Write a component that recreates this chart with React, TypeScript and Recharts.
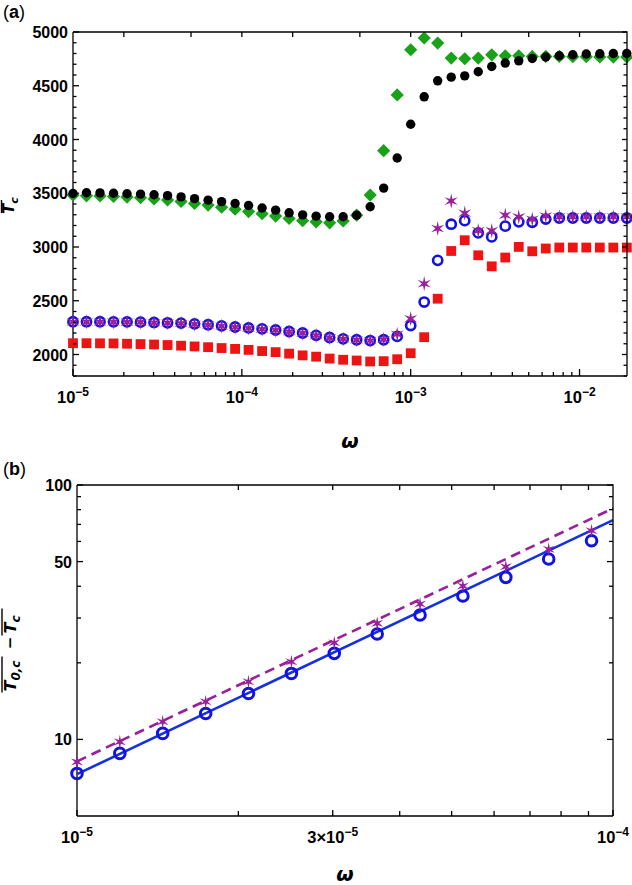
import React from 'react';
import { ScatterChart, Scatter, XAxis, YAxis } from 'recharts';

const FONT = '"Liberation Sans", Arial, Helvetica, sans-serif';
const LABEL_FONT = '"DejaVu Sans", "Liberation Sans", sans-serif';

// ---- panel (a) ----
const omegaA = [
  1.0e-5, 1.202e-5, 1.445e-5, 1.738e-5, 2.089e-5, 2.512e-5, 3.02e-5, 3.631e-5, 4.365e-5, 5.248e-5,
  6.31e-5, 7.586e-5, 9.12e-5, 1.096e-4, 1.318e-4, 1.585e-4, 1.905e-4, 2.291e-4, 2.754e-4, 3.311e-4,
  3.981e-4, 4.786e-4, 5.754e-4, 6.918e-4, 8.318e-4, 1.0e-3, 1.202e-3, 1.445e-3, 1.738e-3, 2.089e-3,
  2.512e-3, 3.02e-3, 3.631e-3, 4.365e-3, 5.248e-3, 6.31e-3, 7.586e-3, 9.12e-3, 1.096e-2, 1.318e-2,
  1.585e-2, 1.905e-2,
];
const blackA = [
  3498, 3505, 3503, 3500, 3495, 3492, 3486, 3478, 3466, 3450, 3436, 3422, 3405, 3386, 3363, 3343,
  3318, 3299, 3287, 3281, 3281, 3296, 3374, 3548, 3828, 4142, 4397, 4546, 4580, 4592, 4630, 4679,
  4711, 4732, 4754, 4767, 4779, 4788, 4795, 4797, 4800, 4800,
];
const greenA = [
  3483, 3476, 3475, 3470, 3464, 3458, 3447, 3438, 3424, 3405, 3390, 3370, 3352, 3330, 3310, 3288,
  3265, 3245, 3234, 3225, 3243, 3296, 3483, 3896, 4415, 4835, 4944, 4897, 4757, 4751, 4757, 4788,
  4779, 4779, 4773, 4773, 4773, 4770, 4770, 4768, 4767, 4767,
];
const redA = [
  2105, 2105, 2104, 2103, 2100, 2097, 2093, 2088, 2082, 2075, 2068, 2060, 2052, 2043, 2032, 2022,
  2008, 1992, 1980, 1962, 1951, 1944, 1935, 1938, 1956, 2012, 2161, 2519, 2963, 3063, 2923, 2820,
  2902, 3001, 2960, 2986, 2995, 2995, 2995, 2995, 2995, 2995,
];
const blueA = [
  2305, 2305, 2305, 2304, 2303, 2301, 2298, 2295, 2292, 2285, 2277, 2267, 2256, 2247, 2238, 2228,
  2214, 2200, 2178, 2158, 2146, 2137, 2130, 2137, 2168, 2270, 2488, 2876, 3212, 3245, 3131, 3094,
  3194, 3234, 3230, 3260, 3270, 3270, 3270, 3270, 3270, 3270,
];
const purpleA = [
  2303, 2303, 2303, 2302, 2301, 2299, 2296, 2293, 2289, 2282, 2274, 2264, 2253, 2244, 2235, 2225,
  2211, 2197, 2176, 2156, 2144, 2135, 2129, 2140, 2188, 2333, 2659, 3172, 3427, 3315, 3152, 3152,
  3296, 3280, 3258, 3288, 3280, 3280, 3280, 3280, 3280, 3280,
];

const xTicksA = [
  1e-5, 2e-5, 3e-5, 4e-5, 5e-5, 6e-5, 7e-5, 8e-5, 9e-5,
  1e-4, 2e-4, 3e-4, 4e-4, 5e-4, 6e-4, 7e-4, 8e-4, 9e-4,
  1e-3, 2e-3, 3e-3, 4e-3, 5e-3, 6e-3, 7e-3, 8e-3, 9e-3, 1e-2,
];
const xTopTicksA = [2e-5, 5e-5, 1e-4, 2e-4, 5e-4, 1e-3, 2e-3, 5e-3, 1e-2];
const xLabelValsA = [1e-5, 1e-4, 1e-3, 1e-2];
const xLabelPrefixA = ['', '', '', ''];
const xLabelExpA = ['−5', '−4', '−3', '−2'];
const yTicksA = [
  1800, 1900, 2000, 2100, 2200, 2300, 2400, 2500, 2600, 2700, 2800, 2900, 3000, 3100, 3200, 3300, 3400,
  3500, 3600, 3700, 3800, 3900, 4000, 4100, 4200, 4300, 4400, 4500, 4600, 4700, 4800, 4900, 5000,
];
const yLabelValsA = [2000, 2500, 3000, 3500, 4000, 4500, 5000];

// ---- panel (b) ----
const omegaB = [
  1.0e-5, 1.202e-5, 1.445e-5, 1.738e-5, 2.089e-5, 2.512e-5, 3.02e-5, 3.631e-5, 4.365e-5, 5.248e-5,
  6.31e-5, 7.586e-5, 9.12e-5,
];
const blueB = [7.35, 8.81, 10.56, 12.65, 15.16, 18.17, 21.79, 25.95, 30.83, 36.6, 43.36, 51.17, 60.39];
const purpleB = [8.16, 9.78, 11.73, 14.06, 16.85, 20.19, 23.98, 28.59, 34.05, 40.06, 47.72, 55.86, 66.12];
const fitX = [1e-5, 1e-4];
const blueFitY = [7.3, 72.8];
const purpleFitY = [8.2, 80.9];

const xTicksB = [1e-5, 2e-5, 3e-5, 4e-5, 5e-5, 6e-5, 7e-5, 8e-5, 9e-5, 1e-4];
const xTopTicksB = [2e-5, 3e-5, 4e-5, 5e-5, 6e-5, 7e-5, 8e-5, 9e-5];
const xLabelValsB = [1e-5, 3e-5, 1e-4];
const xLabelPrefixB = ['', '3×', ''];
const xLabelExpB = ['−5', '−5', '−4'];
const yTicksB = [10, 20, 30, 40, 50, 60, 70, 80, 90, 100];
const yLabelValsB = [10, 50, 100];

const C_GREEN = '#19a119';
const C_RED = '#ee1414';
const C_BLUE = '#1212e2';
const C_PURPLE = '#9a1f9a';
const FRAME_W = 1.3;

// chart boxes
const W = 632;
const A_H = 455;
const A_M = { top: 32, right: 5, bottom: 0, left: 0 };
const A_YW = 73;
const A_XH = 79;
const A_PW = W - A_M.left - A_M.right - A_YW;
const A_PH = A_H - A_M.top - A_M.bottom - A_XH;
const B_H = 430;
const B_M = { top: 30, right: 19, bottom: 0, left: 0 };
const B_YW = 77;
const B_XH = 69;
const B_PW = W - B_M.left - B_M.right - B_YW;
const B_PH = B_H - B_M.top - B_M.bottom - B_XH;

const toPts = (xs: number[], ys: number[]) => ys.map((y, i) => ({ x: xs[i], y }));

// ---- markers ----
const starPoints = (cx: number, cy: number, R: number, r: number) => {
  const pts: string[] = [];
  for (let k = 0; k < 12; k++) {
    const a = -Math.PI / 2 + (k * Math.PI) / 6;
    const rad = k % 2 === 0 ? R : r;
    pts.push(`${cx + rad * Math.cos(a)},${cy + rad * Math.sin(a)}`);
  }
  return pts.join(' ');
};

const BlackDot = (p: any) => <circle cx={p.cx} cy={p.cy} r={4.7} fill="#000" />;
const GreenDiamond = (p: any) => (
  <polygon
    points={`${p.cx},${p.cy - 6.6} ${p.cx + 6.6},${p.cy} ${p.cx},${p.cy + 6.6} ${p.cx - 6.6},${p.cy}`}
    fill={C_GREEN}
  />
);
const RedSquare = (p: any) => <rect x={p.cx - 4.9} y={p.cy - 4.9} width={9.8} height={9.8} fill={C_RED} />;
const BlueRingA = (p: any) => <circle cx={p.cx} cy={p.cy} r={4.6} fill="none" stroke={C_BLUE} strokeWidth={2.6} />;
const StarA = (p: any) => <polygon points={starPoints(p.cx, p.cy, 7.6, 2.3)} fill={C_PURPLE} />;
const BlueRingB = (p: any) => <circle cx={p.cx} cy={p.cy} r={5.3} fill="none" stroke={C_BLUE} strokeWidth={3} />;
const StarB = (p: any) => <polygon points={starPoints(p.cx, p.cy, 7, 2.1)} fill={C_PURPLE} />;
const NoShape = () => <g />;

// ---- ticks: inward marks on the axis and on the opposite side of the frame ----
const xTick =
  (
    majors: number[],
    topTicks: number[],
    labelVals: number[],
    prefixes: string[],
    exps: string[],
    majorLen: number,
    minorLen: number,
    topLen: number,
    plotW: number,
    plotH: number,
  ) =>
  (props: any) => {
    const { x, y, payload, index } = props;
    const v = payload.value;
    const len = majors.includes(v) ? majorLen : minorLen;
    const k = labelVals.indexOf(v);
    const top = y - plotH;
    return (
      <g>
        <line x1={x} x2={x} y1={y} y2={y - len} stroke="#000" strokeWidth={FRAME_W} />
        {topTicks.includes(v) && <line x1={x} x2={x} y1={top} y2={top + topLen} stroke="#000" strokeWidth={FRAME_W} />}
        {index === 0 && (
          <polyline
            points={`${x},${top} ${x + plotW},${top} ${x + plotW},${y}`}
            fill="none"
            stroke="#000"
            strokeWidth={FRAME_W}
          />
        )}
        {k >= 0 && (
          <text x={x} y={y + 27} textAnchor="middle" fontFamily={FONT} fontWeight="bold" fontSize={16.5} fill="#000">
            {prefixes[k]}10
            <tspan dy={-7.5} fontSize={12}>
              {exps[k]}
            </tspan>
          </text>
        )}
      </g>
    );
  };

const yTick =
  (majors: number[], labelVals: number[], majorLen: number, minorLen: number, rightMajor: number, rightMinor: number, plotW: number) =>
  (props: any) => {
    const { x, y, payload } = props;
    const v = payload.value;
    const isMajor = majors.includes(v);
    const len = isMajor ? majorLen : minorLen;
    const rlen = isMajor ? rightMajor : rightMinor;
    const right = x + plotW;
    return (
      <g>
        <line x1={x} x2={x + len} y1={y} y2={y} stroke="#000" strokeWidth={FRAME_W} />
        <line x1={right} x2={right - rlen} y1={y} y2={y} stroke="#000" strokeWidth={FRAME_W} />
        {labelVals.includes(v) && (
          <text x={x - 5} y={y + 6} textAnchor="end" fontFamily={FONT} fontWeight="bold" fontSize={16} fill="#000">
            {v}
          </text>
        )}
      </g>
    );
  };

// ---- axis titles ----
const OmegaLabel = (props: any) => {
  const vb = props.viewBox;
  return (
    <text
      x={vb.x + vb.width / 2}
      y={vb.y + props.base}
      textAnchor="middle"
      fontFamily={LABEL_FONT}
      fontWeight="bold"
      fontStyle="italic"
      fontSize={20}
      fill="#000"
    >
      ω
    </text>
  );
};

const TcLabel = (props: any) => {
  const vb = props.viewBox;
  const cy = vb.y + vb.height / 2;
  return (
    <g transform={`translate(${vb.x + 14},${cy}) rotate(-90)`}>
      <text x={-10} y={0} fontFamily={LABEL_FONT} fontWeight="bold" fontStyle="italic" fontSize={15} fill="#000">
        T
        <tspan dy={4} fontSize={11}>
          c
        </tspan>
      </text>
      <line x1={-9} x2={4} y1={-12.5} y2={-12.5} stroke="#000" strokeWidth={1.4} />
    </g>
  );
};

const DiffLabel = (props: any) => {
  const vb = props.viewBox;
  const cy = vb.y + vb.height / 2;
  return (
    <g transform={`translate(${vb.x + 16},${cy}) rotate(-90)`}>
      <text x={-41} y={0} fontFamily={LABEL_FONT} fontWeight="bold" fontStyle="italic" fontSize={16} fill="#000">
        T
        <tspan dy={4} fontSize={12}>
          0,c
        </tspan>
      </text>
      <text x={7.5} y={-1} textAnchor="middle" fontFamily={LABEL_FONT} fontWeight="bold" fontSize={15} fill="#000">
        −
      </text>
      <text x={17} y={0} fontFamily={LABEL_FONT} fontWeight="bold" fontStyle="italic" fontSize={16} fill="#000">
        T
        <tspan dy={4} fontSize={12}>
          c
        </tspan>
      </text>
      <line x1={-42} x2={-6} y1={-14} y2={-14} stroke="#000" strokeWidth={1.4} />
      <line x1={15} x2={42} y1={-14} y2={-14} stroke="#000" strokeWidth={1.4} />
    </g>
  );
};

const axisLine = { stroke: '#000', strokeWidth: FRAME_W };

export default function App() {
  return (
    <div style={{ position: 'absolute', left: 0, top: 0, width: W, height: A_H + B_H, background: '#fff' }}>
      <ScatterChart width={W} height={A_H} margin={A_M}>
        <XAxis
          type="number"
          dataKey="x"
          scale="log"
          domain={[1e-5, 0.0191]}
          ticks={xTicksA}
          interval={0}
          tick={xTick(xLabelValsA, xTopTicksA, xLabelValsA, xLabelPrefixA, xLabelExpA, 7, 4, 5, A_PW, A_PH)}
          tickLine={false}
          tickSize={0}
          tickMargin={0}
          axisLine={axisLine}
          height={A_XH}
          label={<OmegaLabel base={72} />}
        />
        <YAxis
          type="number"
          dataKey="y"
          domain={[1800, 5000]}
          ticks={yTicksA}
          interval={0}
          tick={yTick(yLabelValsA, yLabelValsA, 6, 3.5, 5, 3.5, A_PW)}
          tickLine={false}
          tickSize={0}
          tickMargin={0}
          axisLine={axisLine}
          width={A_YW}
          label={<TcLabel />}
        />
        <Scatter data={toPts(omegaA, greenA)} shape={GreenDiamond} isAnimationActive={false} />
        <Scatter data={toPts(omegaA, blackA)} shape={BlackDot} isAnimationActive={false} />
        <Scatter data={toPts(omegaA, redA)} shape={RedSquare} isAnimationActive={false} />
        <Scatter data={toPts(omegaA, blueA)} shape={BlueRingA} isAnimationActive={false} />
        <Scatter data={toPts(omegaA, purpleA)} shape={StarA} isAnimationActive={false} />
      </ScatterChart>

      <ScatterChart width={W} height={B_H} margin={B_M}>
        <XAxis
          type="number"
          dataKey="x"
          scale="log"
          domain={[1e-5, 1e-4]}
          ticks={xTicksB}
          interval={0}
          tick={xTick(xLabelValsB, xTopTicksB, xLabelValsB, xLabelPrefixB, xLabelExpB, 6, 5, 5, B_PW, B_PH)}
          tickLine={false}
          tickSize={0}
          tickMargin={0}
          axisLine={axisLine}
          height={B_XH}
          label={<OmegaLabel base={65} />}
        />
        <YAxis
          type="number"
          dataKey="y"
          scale="log"
          domain={[5, 100]}
          ticks={yTicksB}
          interval={0}
          tick={yTick(yLabelValsB, yLabelValsB, 6, 4, 6, 4, B_PW)}
          tickLine={false}
          tickSize={0}
          tickMargin={0}
          axisLine={axisLine}
          width={B_YW}
          label={<DiffLabel />}
        />
        <Scatter
          data={toPts(fitX, blueFitY)}
          line={{ stroke: '#1530e0', strokeWidth: 2.6 }}
          shape={NoShape}
          isAnimationActive={false}
        />
        <Scatter
          data={toPts(fitX, purpleFitY)}
          line={{ stroke: C_PURPLE, strokeWidth: 2.6, strokeDasharray: '10 6' }}
          shape={NoShape}
          isAnimationActive={false}
        />
        <Scatter data={toPts(omegaB, blueB)} shape={BlueRingB} isAnimationActive={false} />
        <Scatter data={toPts(omegaB, purpleB)} shape={StarB} isAnimationActive={false} />
      </ScatterChart>

      <svg width={W} height={A_H + B_H} style={{ position: 'absolute', left: 0, top: 0, pointerEvents: 'none' }}>
        <text x={3} y={18} fontFamily={FONT} fontSize={18} fill="#000">
          (<tspan fontWeight="bold">a</tspan>)
        </text>
        <text x={3} y={475} fontFamily={FONT} fontSize={18} fill="#000">
          (<tspan fontWeight="bold">b</tspan>)
        </text>
      </svg>
    </div>
  );
}
